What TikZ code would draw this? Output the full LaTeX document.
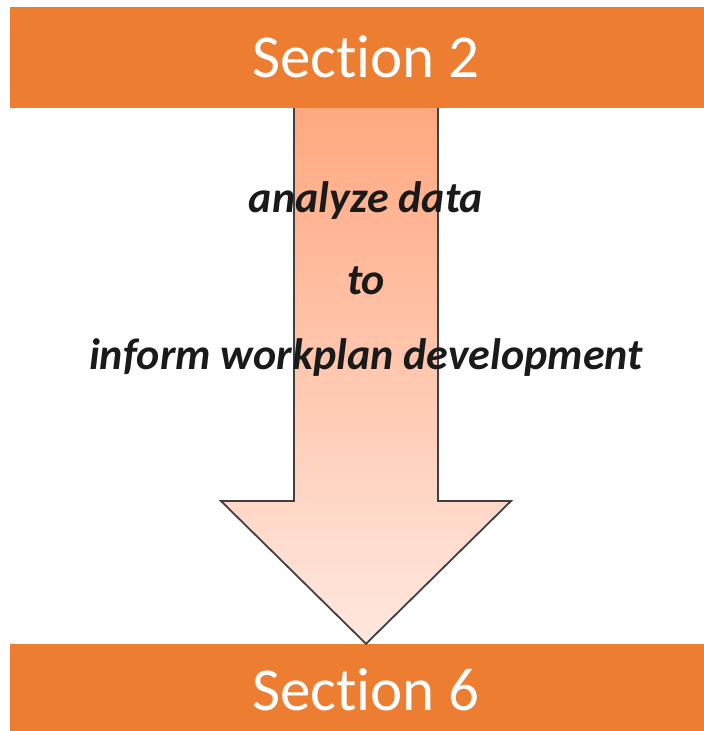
\documentclass[tikz,border=0pt]{standalone}
\usepackage{fontspec}
\setmainfont{Carlito}[Ligatures=NoCommon]
\usetikzlibrary{positioning}

\definecolor{barorange}{RGB}{237,125,49}
\definecolor{arrowtop}{RGB}{255,168,128}
\definecolor{arrowbot}{RGB}{255,232,224}
\definecolor{textdark}{RGB}{26,26,26}

\begin{document}
\begin{tikzpicture}[x=1pt, y=-1pt]
    \tikzstyle{bar}=[fill=barorange, draw=none, minimum width=694pt, inner sep=0pt]
    \tikzstyle{bartext}=[text=white, font=\fontsize{61}{61}\selectfont]
    \tikzstyle{annot}=[font=\bfseries\itshape\fontsize{44}{44}\selectfont, text=textdark]

    \useasboundingbox (0,0) rectangle (704,731);

    \node[bar, minimum height=101pt] (top) at (357,57.5) {};
    \node[bar, minimum height=87pt] (bottom) at (357,687.5) {};
    \node[bartext] (toplabel) at (366,57) {Section 2};
    \node[bartext] (bottomlabel) at (366,690) {Section 6};

    % big arrow between the bars
    \coordinate (tip) at (bottom.north -| 366,0);
    \draw[draw=black!75, line width=1.8pt, top color=arrowtop, bottom color=arrowbot]
        (top.south -| 294,0) -- (294,501) -- (221,501) -- (tip)
        -- (511,501) -- (438,501) -- (top.south -| 438,0);

    \node[annot] (t1) at (366,201) {analyze data};
    \node[annot] (t2) at (366,281) {to};
    \node[annot] (t3) at (366,358) {inform workplan development};
\end{tikzpicture}
\end{document}
